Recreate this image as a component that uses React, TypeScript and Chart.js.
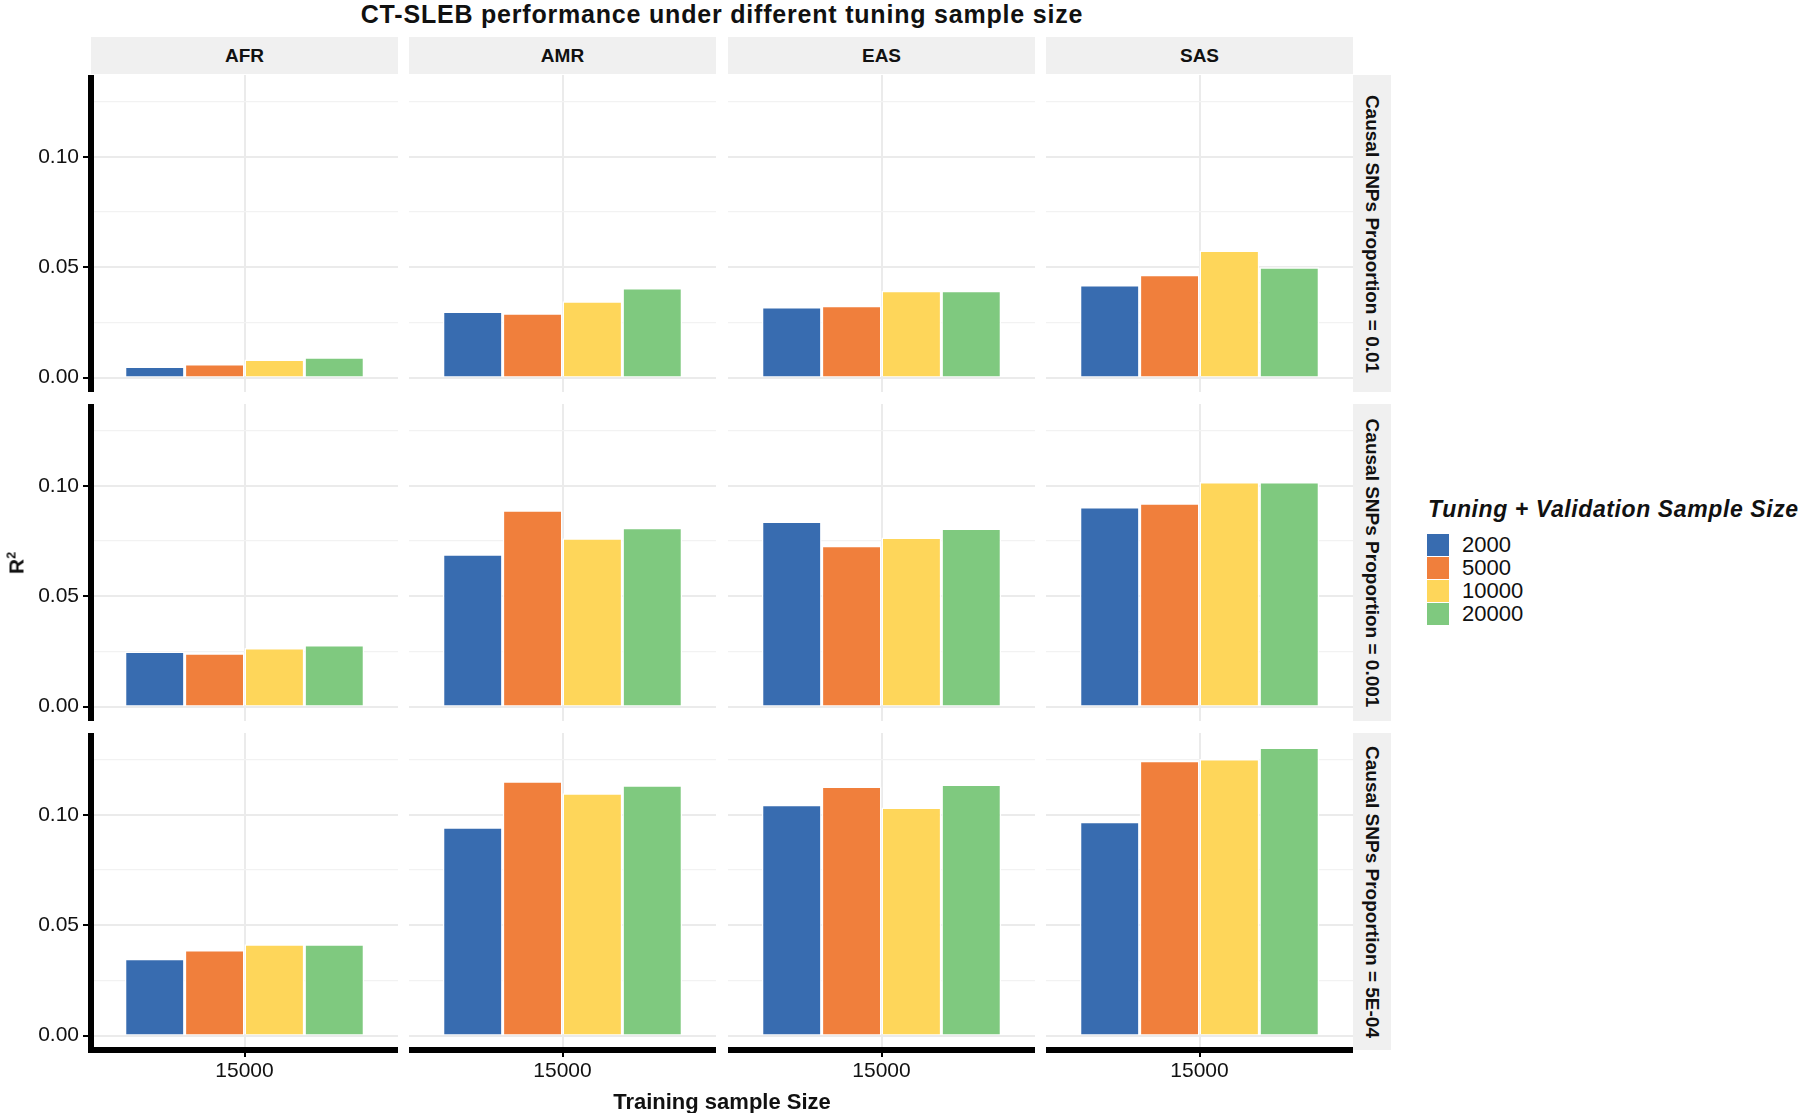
import React, { useEffect, useRef } from 'react';
import { Chart, registerables } from 'chart.js';

Chart.register(...registerables);

// ---------- data ----------
const ancestries = ['AFR', 'AMR', 'EAS', 'SAS'];
const causalProportions = ['0.01', '0.001', '5E-04'];
const tuningSizes = ['2000', '5000', '10000', '20000'];
const trainingSizes = ['15000'];
const yTickValues = [0, 0.025, 0.05, 0.075, 0.1, 0.125];
const yTickLabels = ['0.00', '', '0.05', '', '0.10', ''];

// R^2 values, each array ordered as ancestries [AFR, AMR, EAS, SAS]
const r2_p01_n2000 = [0.005, 0.03, 0.032, 0.042];
const r2_p01_n5000 = [0.0062, 0.0292, 0.0326, 0.0466];
const r2_p01_n10000 = [0.0082, 0.0346, 0.0393, 0.0576];
const r2_p01_n20000 = [0.0092, 0.0406, 0.0393, 0.05];

const r2_p001_n2000 = [0.025, 0.069, 0.0839, 0.0904];
const r2_p001_n5000 = [0.0242, 0.089, 0.0729, 0.0922];
const r2_p001_n10000 = [0.0266, 0.0763, 0.0766, 0.1018];
const r2_p001_n20000 = [0.0279, 0.081, 0.0807, 0.1018];

const r2_p0005_n2000 = [0.0348, 0.0944, 0.1046, 0.0969];
const r2_p0005_n5000 = [0.0388, 0.1153, 0.1129, 0.1245];
const r2_p0005_n10000 = [0.0414, 0.1098, 0.1034, 0.1253];
const r2_p0005_n20000 = [0.0414, 0.1135, 0.1138, 0.1306];

const r2Rows = [
  [r2_p01_n2000, r2_p01_n5000, r2_p01_n10000, r2_p01_n20000],
  [r2_p001_n2000, r2_p001_n5000, r2_p001_n10000, r2_p001_n20000],
  [r2_p0005_n2000, r2_p0005_n5000, r2_p0005_n10000, r2_p0005_n20000],
];

const Y_MIN = -0.00653;
const Y_MAX = 0.13713;

// ---------- style / layout ----------
const barColors = ['#386CB0', '#F07F3C', '#FED65A', '#7FC97F'];
const FONT = "'Liberation Sans', Arial, Helvetica, sans-serif";
const TEXT = '#111111';
const STRIP_BG = '#F0F0F0';
const COL_LEFT = [91, 409, 728, 1046];
const ROW_TOP = [75, 404, 733];
const PANEL_W = 307;
const PANEL_H = 317;
const X_AXIS_H = 45;

Chart.defaults.font.family = FONT;

function Panel({ row, col }: { row: number; col: number }) {
  const ref = useRef<HTMLCanvasElement | null>(null);
  const isLeft = col === 0;
  const isBottom = row === 2;
  const left = isLeft ? 0 : COL_LEFT[col];
  const width = isLeft ? COL_LEFT[0] + PANEL_W : PANEL_W;
  const height = isBottom ? PANEL_H + X_AXIS_H : PANEL_H;

  useEffect(() => {
    if (!ref.current) return;
    const zeroPad = (s: any) => {
      s.paddingLeft = 0;
      s.paddingRight = 0;
      s.paddingTop = 0;
      s.paddingBottom = 0;
    };
    const chart = new Chart(ref.current, {
      type: 'bar',
      data: {
        labels: trainingSizes,
        datasets: tuningSizes.map((t, k) => ({
          label: t,
          data: [r2Rows[row][k][col]],
          backgroundColor: barColors[k],
          borderColor: '#FFFFFF',
          borderWidth: 1.5,
          categoryPercentage: 0.78,
          barPercentage: 1,
        })),
      },
      options: {
        responsive: false,
        animation: false,
        devicePixelRatio: 1,
        layout: { padding: 0 },
        plugins: {
          legend: { display: false },
          tooltip: { enabled: false },
          title: { display: false },
        },
        scales: {
          x: {
            offset: true,
            grid: {
              offset: false,
              color: '#EBEBEB',
              lineWidth: 2,
              drawTicks: isBottom,
              tickLength: 7,
              tickColor: '#000000',
              tickWidth: 2,
            },
            border: { display: isBottom, color: '#000000', width: 6 },
            ticks: {
              display: isBottom,
              color: TEXT,
              font: { size: 21, family: FONT },
              padding: 2,
              maxRotation: 0,
            },
            afterFit: (s: any) => {
              s.height = isBottom ? X_AXIS_H : 0;
              zeroPad(s);
            },
          },
          y: {
            min: Y_MIN,
            max: Y_MAX,
            afterBuildTicks: (s: any) => {
              s.ticks = yTickValues.map((v) => ({ value: v }));
            },
            grid: {
              color: (ctx: any) =>
                yTickLabels[ctx.index] !== '' ? '#EBEBEB' : '#F2F2F2',
              lineWidth: (ctx: any) => (yTickLabels[ctx.index] !== '' ? 2 : 1.2),
              drawTicks: isLeft,
              tickLength: 8,
              tickWidth: 2,
              tickColor: (ctx: any) =>
                isLeft && yTickLabels[ctx.index] !== '' ? '#000000' : 'rgba(0,0,0,0)',
            },
            border: { display: isLeft, color: '#000000', width: 6 },
            ticks: {
              display: isLeft,
              color: TEXT,
              font: { size: 21, family: FONT },
              padding: 4,
              callback: (_v: any, i: number) => yTickLabels[i],
            },
            afterFit: (s: any) => {
              s.width = isLeft ? COL_LEFT[0] : 0;
              zeroPad(s);
            },
          },
        },
      } as any,
    });
    return () => chart.destroy();
  }, [row, col]);

  return (
    <canvas
      ref={ref}
      width={width}
      height={height}
      style={{ position: 'absolute', left, top: ROW_TOP[row], width, height }}
    />
  );
}

export default function App() {
  const panels = [];
  for (let r = 0; r < causalProportions.length; r++) {
    for (let c = 0; c < ancestries.length; c++) {
      panels.push(<Panel key={`${r}-${c}`} row={r} col={c} />);
    }
  }
  const plotCenter = (COL_LEFT[0] + COL_LEFT[3] + PANEL_W) / 2;

  return (
    <div
      style={{
        position: 'absolute',
        left: 0,
        top: 0,
        width: 1800,
        height: 1113,
        background: '#FFFFFF',
        fontFamily: FONT,
        color: TEXT,
        overflow: 'hidden',
      }}
    >
      {/* title */}
      <div
        style={{
          position: 'absolute',
          left: plotCenter - 500,
          width: 1000,
          top: 0,
          lineHeight: '28px',
          textAlign: 'center',
          fontSize: 25,
          fontWeight: 'bold',
          letterSpacing: 0.8,
          whiteSpace: 'nowrap',
        }}
      >
        CT-SLEB performance under different tuning sample size
      </div>

      {/* top strips */}
      {ancestries.map((a, c) => (
        <div
          key={a}
          style={{
            position: 'absolute',
            left: COL_LEFT[c],
            top: 37,
            width: PANEL_W,
            height: 37,
            lineHeight: '37px',
            background: STRIP_BG,
            textAlign: 'center',
            fontSize: 19,
            fontWeight: 'bold',
          }}
        >
          {a}
        </div>
      ))}

      {/* right strips */}
      {causalProportions.map((p, r) => (
        <div
          key={p}
          style={{
            position: 'absolute',
            left: COL_LEFT[3] + PANEL_W,
            top: ROW_TOP[r],
            width: 38,
            height: PANEL_H,
            background: STRIP_BG,
            display: 'flex',
            alignItems: 'center',
            justifyContent: 'center',
          }}
        >
          <span
            style={{
              display: 'inline-block',
              transform: 'rotate(90deg)',
              whiteSpace: 'nowrap',
              fontSize: 19,
              fontWeight: 'bold',
            }}
          >
            {`Causal SNPs Proportion = ${p}`}
          </span>
        </div>
      ))}

      {panels}

      {/* axis titles */}
      <div
        style={{
          position: 'absolute',
          left: plotCenter - 300,
          width: 600,
          top: 1089,
          lineHeight: '26px',
          textAlign: 'center',
          fontSize: 22,
          fontWeight: 'bold',
        }}
      >
        Training sample Size
      </div>
      <div
        style={{
          position: 'absolute',
          left: 14,
          top: 563,
          transform: 'translate(-50%, -50%) rotate(-90deg)',
          fontSize: 21,
          fontWeight: 'bold',
          whiteSpace: 'nowrap',
          lineHeight: '26px',
        }}
      >
        R<sup style={{ fontSize: '0.6em' }}>2</sup>
      </div>

      {/* legend */}
      <div
        style={{
          position: 'absolute',
          left: 1428,
          top: 495,
          lineHeight: '28px',
          fontSize: 23,
          fontWeight: 'bold',
          fontStyle: 'italic',
          letterSpacing: 0.6,
          whiteSpace: 'nowrap',
        }}
      >
        Tuning + Validation Sample Size
      </div>
      {tuningSizes.map((t, k) => (
        <React.Fragment key={t}>
          <div
            style={{
              position: 'absolute',
              left: 1427,
              top: 534 + 23 * k,
              width: 22,
              height: 22,
              background: barColors[k],
            }}
          />
          <div
            style={{
              position: 'absolute',
              left: 1462,
              top: 534 + 23 * k,
              height: 22,
              lineHeight: '22px',
              fontSize: 22,
            }}
          >
            {t}
          </div>
        </React.Fragment>
      ))}
    </div>
  );
}
